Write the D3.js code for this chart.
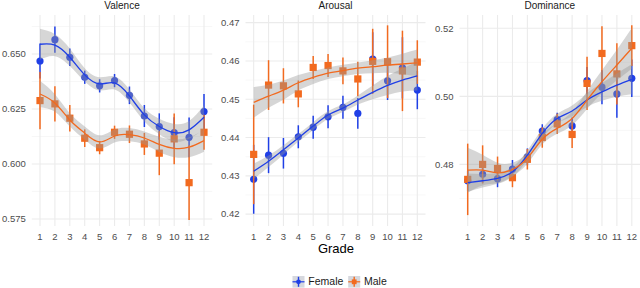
<!DOCTYPE html>
<html lang="en">
<head>
<meta charset="UTF-8">
<title>Grade trends</title>
<script src="https://cdn.jsdelivr.net/npm/d3@7"></script>
<style>
body { margin: 0; background: #fff; }
text { font-family: "Liberation Sans", Arial, sans-serif; }
</style>
</head>
<body>
<svg id="chart" width="640" height="288"></svg>
<script>

const grades = [1, 2, 3, 4, 5, 6, 7, 8, 9, 10, 11, 12];

// Valence
const valenceFemale    = [0.6468, 0.6565, 0.6485, 0.6394, 0.6355, 0.6379, 0.6312, 0.6218, 0.6170, 0.6142, 0.6121, 0.6238];
const valenceFemaleErr = [0.0080, 0.0060, 0.0040, 0.0030, 0.0030, 0.0030, 0.0040, 0.0050, 0.0060, 0.0070, 0.0090, 0.0080];
const valenceFemaleFit = [0.6544, 0.6540, 0.6485, 0.6405, 0.6364, 0.6368, 0.6309, 0.6223, 0.6170, 0.6142, 0.6155, 0.6212];
const valenceFemaleSe  = [0.0070, 0.0050, 0.0040, 0.0030, 0.0030, 0.0030, 0.0030, 0.0030, 0.0035, 0.0040, 0.0040, 0.0055];
const valenceMale      = [0.6288, 0.6273, 0.6208, 0.6117, 0.6074, 0.6144, 0.6135, 0.6091, 0.6049, 0.6114, 0.5915, 0.6144];
const valenceMaleErr   = [0.0130, 0.0080, 0.0060, 0.0040, 0.0030, 0.0030, 0.0040, 0.0050, 0.0100, 0.0115, 0.0170, 0.0080];
const valenceMaleFit   = [0.6318, 0.6277, 0.6200, 0.6140, 0.6100, 0.6127, 0.6133, 0.6118, 0.6089, 0.6071, 0.6076, 0.6106];
const valenceMaleSe    = [0.0060, 0.0040, 0.0030, 0.0030, 0.0030, 0.0030, 0.0030, 0.0030, 0.0035, 0.0040, 0.0045, 0.0050];

// Arousal
const arousalFemale    = [0.4291, 0.4354, 0.4359, 0.4402, 0.4427, 0.4454, 0.4479, 0.4463, 0.4605, 0.4548, 0.4582, 0.4524];
const arousalFemaleErr = [0.0090, 0.0047, 0.0040, 0.0030, 0.0030, 0.0030, 0.0030, 0.0040, 0.0070, 0.0050, 0.0080, 0.0050];
const arousalFemaleFit = [0.4312, 0.4338, 0.4368, 0.4399, 0.4430, 0.4459, 0.4477, 0.4498, 0.4518, 0.4536, 0.4550, 0.4561];
const arousalFemaleSe  = [0.0020, 0.0015, 0.0012, 0.0010, 0.0010, 0.0010, 0.0010, 0.0012, 0.0018, 0.0025, 0.0030, 0.0038];
const arousalMale      = [0.4356, 0.4537, 0.4535, 0.4514, 0.4583, 0.4588, 0.4574, 0.4553, 0.4599, 0.4598, 0.4574, 0.4597];
const arousalMaleErr   = [0.0130, 0.0065, 0.0046, 0.0035, 0.0030, 0.0030, 0.0035, 0.0045, 0.0085, 0.0095, 0.0105, 0.0057];
const arousalMaleFit   = [0.4492, 0.4508, 0.4524, 0.4543, 0.4557, 0.4568, 0.4575, 0.4581, 0.4585, 0.4589, 0.4592, 0.4595];
const arousalMaleSe    = [0.0040, 0.0030, 0.0025, 0.0020, 0.0017, 0.0015, 0.0015, 0.0015, 0.0017, 0.0020, 0.0027, 0.0035];

// Dominance
const dominanceFemale    = [0.4752, 0.4771, 0.4758, 0.4786, 0.4822, 0.4898, 0.4932, 0.4913, 0.5046, 0.5027, 0.5007, 0.5053];
const dominanceFemaleErr = [0.0030, 0.0026, 0.0025, 0.0027, 0.0025, 0.0020, 0.0020, 0.0025, 0.0040, 0.0050, 0.0070, 0.0055];
const dominanceFemaleFit = [0.4746, 0.4752, 0.4759, 0.4778, 0.4827, 0.4891, 0.4935, 0.4957, 0.4989, 0.5013, 0.5033, 0.5050];
const dominanceFemaleSe  = [0.0027, 0.0020, 0.0016, 0.0014, 0.0014, 0.0014, 0.0014, 0.0016, 0.0020, 0.0026, 0.0034, 0.0044];
const dominanceMale      = [0.4756, 0.4800, 0.4788, 0.4761, 0.4815, 0.4879, 0.4919, 0.4888, 0.5038, 0.5126, 0.5066, 0.5149];
const dominanceMaleErr   = [0.0105, 0.0056, 0.0035, 0.0028, 0.0030, 0.0030, 0.0030, 0.0040, 0.0078, 0.0080, 0.0090, 0.0060];
const dominanceMaleFit   = [0.4783, 0.4783, 0.4775, 0.4785, 0.4818, 0.4874, 0.4906, 0.4935, 0.4989, 0.5043, 0.5092, 0.5141];
const dominanceMaleSe    = [0.0066, 0.0045, 0.0030, 0.0020, 0.0016, 0.0015, 0.0016, 0.0020, 0.0026, 0.0034, 0.0045, 0.0060];

const panels = [
	{title: "Valence", left: 31.8, right: 212.2, domain: [0.5718, 0.6677],
	 major: [0.575, 0.600, 0.625, 0.650], minor: [0.5875, 0.6125, 0.6375, 0.6625], fmt: ".3f",
	 female: [valenceFemale, valenceFemaleErr, valenceFemaleFit, valenceFemaleSe],
	 male: [valenceMale, valenceMaleErr, valenceMaleFit, valenceMaleSe]},
	{title: "Arousal", left: 245.5, right: 425.5, domain: [0.4169, 0.4720],
	 major: [0.42, 0.43, 0.44, 0.45, 0.46, 0.47], minor: [0.425, 0.435, 0.445, 0.455, 0.465], fmt: ".2f",
	 female: [arousalFemale, arousalFemaleErr, arousalFemaleFit, arousalFemaleSe],
	 male: [arousalMale, arousalMaleErr, arousalMaleFit, arousalMaleSe]},
	{title: "Dominance", left: 459.5, right: 640, domain: [0.4619, 0.5239],
	 major: [0.48, 0.50, 0.52], minor: [0.47, 0.49, 0.51], fmt: ".2f",
	 female: [dominanceFemale, dominanceFemaleErr, dominanceFemaleFit, dominanceFemaleSe],
	 male: [dominanceMale, dominanceMaleErr, dominanceMaleFit, dominanceMaleSe]}
];

const colFemale = "#1f3fe6";
const colMale = "#f26a1f";
const panelTop = 15, panelBottom = 226;

const svg = d3.select("#chart");

panels.forEach(p => {
	const x = d3.scaleLinear().domain([0.45, 12.55]).range([p.left, p.right]);
	const y = d3.scaleLinear().domain(p.domain).range([panelBottom, panelTop]);
	const g = svg.append("g");

	// grid
	g.selectAll(".minor").data(p.minor).join("line")
		.attr("x1", p.left).attr("x2", p.right)
		.attr("y1", d => y(d)).attr("y2", d => y(d))
		.attr("stroke", "#f2f2f2").attr("stroke-width", 0.6);
	g.selectAll(".major").data(p.major).join("line")
		.attr("x1", p.left).attr("x2", p.right)
		.attr("y1", d => y(d)).attr("y2", d => y(d))
		.attr("stroke", "#ebebeb").attr("stroke-width", 1.1);
	g.selectAll(".vgrid").data(grades).join("line")
		.attr("x1", d => x(d)).attr("x2", d => x(d))
		.attr("y1", panelTop).attr("y2", panelBottom)
		.attr("stroke", "#ebebeb").attr("stroke-width", 1.1);

	// axes labels
	g.selectAll(".ylab").data(p.major).join("text")
		.attr("x", p.left - 6).attr("y", d => y(d)).attr("dy", "0.35em")
		.attr("text-anchor", "end").attr("font-size", 9.5).attr("fill", "#4d4d4d")
		.text(d => d3.format(p.fmt)(d));
	g.selectAll(".xlab").data(grades).join("text")
		.attr("x", d => x(d)).attr("y", panelBottom + 13.5)
		.attr("text-anchor", "middle").attr("font-size", 9.5).attr("fill", "#4d4d4d")
		.text(d => d);
	g.append("text")
		.attr("x", (p.left + p.right) / 2).attr("y", 9)
		.attr("text-anchor", "middle").attr("font-size", 10).attr("fill", "#1a1a1a")
		.text(p.title);

	const series = [
		{vals: p.female, col: colFemale, shape: "circle"},
		{vals: p.male, col: colMale, shape: "square"}
	];

	// points + error bars
	series.forEach(s => {
		const [m, e] = s.vals;
		g.selectAll(null).data(grades).join("line")
			.attr("x1", d => x(d)).attr("x2", d => x(d))
			.attr("y1", (d, i) => y(m[i] - e[i])).attr("y2", (d, i) => y(m[i] + e[i]))
			.attr("stroke", s.col).attr("stroke-width", 1.5);
		if (s.shape === "circle") {
			g.selectAll(null).data(grades).join("circle")
				.attr("cx", d => x(d)).attr("cy", (d, i) => y(m[i])).attr("r", 3.6)
				.attr("fill", s.col);
		} else {
			g.selectAll(null).data(grades).join("rect")
				.attr("x", d => x(d) - 3.6).attr("y", (d, i) => y(m[i]) - 3.6)
				.attr("width", 7.2).attr("height", 7.2)
				.attr("fill", s.col);
		}
	});

	// smooth ribbons + lines
	series.forEach(s => {
		const fit = s.vals[2], se = s.vals[3];
		const area = d3.area()
			.x(d => x(d))
			.y0((d, i) => y(fit[i] - se[i]))
			.y1((d, i) => y(fit[i] + se[i]))
			.curve(d3.curveNatural);
		g.append("path").datum(grades).attr("d", area)
			.attr("fill", "#999999").attr("fill-opacity", 0.4);
	});
	series.forEach(s => {
		const fit = s.vals[2];
		const line = d3.line()
			.x(d => x(d)).y((d, i) => y(fit[i]))
			.curve(d3.curveNatural);
		g.append("path").datum(grades).attr("d", line)
			.attr("fill", "none").attr("stroke", s.col).attr("stroke-width", 1.3);
	});
});

// x title
svg.append("text")
	.attr("x", 336).attr("y", 253)
	.attr("text-anchor", "middle").attr("font-size", 13).attr("fill", "#000")
	.text("Grade");

// legend
const legendItems = [
	{label: "Female", col: colFemale, cx: 298.5, shape: "circle"},
	{label: "Male", col: colMale, cx: 354.2, shape: "square"}
];
const ly = 281.8;
legendItems.forEach(it => {
	const lg = svg.append("g");
	lg.append("rect").attr("x", it.cx - 6).attr("y", ly - 5.8).attr("width", 12).attr("height", 11.6)
		.attr("fill", "#d6d8de");
	lg.append("line").attr("x1", it.cx - 6).attr("x2", it.cx + 6).attr("y1", ly).attr("y2", ly)
		.attr("stroke", it.col).attr("stroke-width", 1.2);
	lg.append("line").attr("x1", it.cx).attr("x2", it.cx).attr("y1", ly - 5).attr("y2", ly + 5)
		.attr("stroke", it.col).attr("stroke-width", 1.4);
	if (it.shape === "circle") {
		lg.append("circle").attr("cx", it.cx).attr("cy", ly).attr("r", 2.4).attr("fill", it.col);
	} else {
		lg.append("rect").attr("x", it.cx - 2.4).attr("y", ly - 2.4).attr("width", 4.8).attr("height", 4.8).attr("fill", it.col);
	}
	lg.append("text").attr("x", it.cx + 9.8).attr("y", ly).attr("dy", "0.35em")
		.attr("font-size", 10.5).attr("fill", "#1a1a1a").text(it.label);
});

</script>
</body>
</html>
